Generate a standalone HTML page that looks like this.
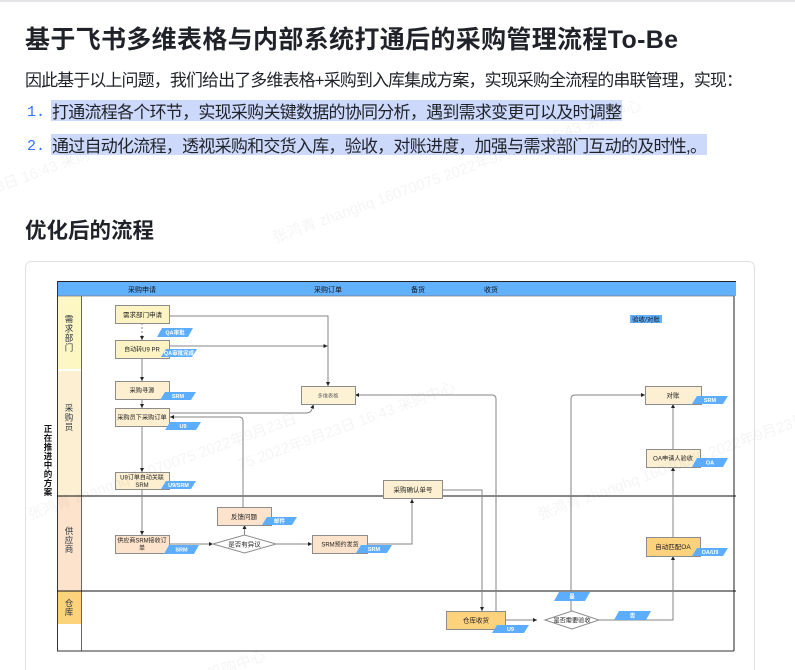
<!DOCTYPE html>
<html><head><meta charset="utf-8">
<style>
html,body{margin:0;padding:0;background:#fff;}
body{width:795px;height:670px;position:relative;overflow:hidden;font-family:"Liberation Sans","Noto Sans CJK SC",sans-serif;color:#1f2329;}
.topline{position:absolute;left:0;top:0;width:795px;height:2px;background:#e4e5e8;}
svg{position:absolute;left:0;top:0;}
</style></head><body>
<div class="topline"></div>

<svg width="795" height="670" viewBox="0 0 795 670" xmlns="http://www.w3.org/2000/svg" font-family="Liberation Sans, Noto Sans CJK SC, sans-serif">
<defs>
<marker id="a" viewBox="0 0 10 10" refX="10" refY="5" markerWidth="4" markerHeight="4" orient="auto"><path d="M0,0 L10,5 L0,10z" fill="#222"/></marker>
</defs>

<!-- header texts -->
<text x="25" y="48" font-size="25" font-weight="bold" fill="#1f2329" textLength="653" lengthAdjust="spacing">基于飞书多维表格与内部系统打通后的采购管理流程To-Be</text>
<text x="25" y="86" font-size="17" fill="#1f2329" textLength="718" lengthAdjust="spacing">因此基于以上问题，我们给出了多维表格+采购到入库集成方案，实现采购全流程的串联管理，实现：</text>
<rect x="51" y="100" width="571" height="21" fill="#cdd9fb"/>
<rect x="51" y="134" width="656" height="21" fill="#cdd9fb"/>
<text x="27" y="116" font-size="15" fill="#3370ff" font-family="Liberation Mono, monospace">1.</text>
<text x="27" y="150" font-size="15" fill="#3370ff" font-family="Liberation Mono, monospace">2.</text>
<text x="52" y="118" font-size="17" fill="#1f2329" textLength="570" lengthAdjust="spacing">打通流程各个环节，实现采购关键数据的协同分析，遇到需求变更可以及时调整</text>
<text x="52" y="152" font-size="17" fill="#1f2329" textLength="655" lengthAdjust="spacing">通过自动化流程，透视采购和交货入库，验收，对账进度，加强与需求部门互动的及时性,。</text>
<text x="25" y="238" font-size="21.5" font-weight="bold" fill="#1f2329" textLength="129" lengthAdjust="spacing">优化后的流程</text>

<!-- faint watermarks (page) -->
<g fill="rgba(0,0,0,0.045)" font-size="15">
<text transform="translate(-10,195) rotate(-20)">23日 16:43 采购中心</text>
<text transform="translate(275,243) rotate(-20)">张鸿青 zhanghq 16070075 2022年9月23日 16:43 采购中心</text>
</g>

<!-- card -->
<rect x="25.5" y="261.5" width="729" height="420" rx="6" fill="#fff" stroke="#dee0e3"/>

<!-- lane column fills -->
<rect x="57" y="296" width="24" height="73" fill="#fdf7c3"/>
<rect x="57" y="371" width="24" height="125" fill="#fdf0d2"/>
<rect x="57" y="496" width="24" height="95" fill="#fde3cc"/>
<rect x="57" y="591" width="24" height="33" fill="#fcd27a"/>

<!-- header bar -->
<rect x="57" y="281" width="679" height="15" fill="#62b1ff"/>
<line x1="57" y1="281.5" x2="736" y2="281.5" stroke="#222" stroke-width="1"/>
<line x1="57" y1="296" x2="734" y2="296" stroke="#777" stroke-width="0.8"/>
<g font-size="7" fill="#111" text-anchor="middle">
<text x="142" y="292">采购申请</text>
<text x="328" y="292">采购订单</text>
<text x="418" y="292">备货</text>
<text x="491" y="292">收货</text>
</g>

<!-- borders -->
<line x1="57.5" y1="281" x2="57.5" y2="651" stroke="#333"/>
<line x1="81.5" y1="296" x2="81.5" y2="651" stroke="#666"/>
<line x1="734" y1="296" x2="734" y2="651" stroke="#555" stroke-width="1.3"/>
<line x1="57" y1="651" x2="734" y2="651" stroke="#333"/>
<line x1="57" y1="496" x2="736" y2="496" stroke="#111"/>
<line x1="57" y1="591" x2="736" y2="591" stroke="#111"/>

<!-- lane labels -->
<g font-size="8.5" fill="#2b3440" text-anchor="middle">
<text x="69" y="322">需</text><text x="69" y="331.5">求</text><text x="69" y="341">部</text><text x="69" y="350.5">门</text>
<text x="69" y="411">采</text><text x="69" y="420.5">购</text><text x="69" y="430">员</text>
<text x="69" y="534">供</text><text x="69" y="543">应</text><text x="69" y="552">商</text>
<text x="69" y="606">仓</text><text x="69" y="615">库</text>
</g>
<g font-size="8.5" fill="#111" text-anchor="middle" font-weight="bold">
<text x="48" y="432">正</text><text x="48" y="441">在</text><text x="48" y="450">推</text><text x="48" y="459">进</text><text x="48" y="468">中</text><text x="48" y="477">的</text><text x="48" y="486">方</text><text x="48" y="495">案</text>
</g>

<!-- 验收/对账 label -->
<rect x="630" y="315" width="32" height="8" fill="#62b1ff"/>
<text x="646" y="321.5" font-size="6.5" fill="#111" text-anchor="middle">验收/对账</text>

<!-- connectors -->
<g fill="none" stroke="#858585" stroke-width="1">
<path d="M170,316 H328 V386" marker-end="url(#a)"/>
<path d="M142,323 V340" stroke-dasharray="2,2" marker-end="url(#a)"/>
<path d="M169,346 H327.5" marker-end="url(#a)"/>
<path d="M142,358 V381" marker-end="url(#a)"/>
<path d="M142,399 V408" marker-end="url(#a)"/>
<path d="M169,413 H306 Q311,413 312,409 L313.5,404.5" marker-end="url(#a)"/>
<path d="M243,507 V421 Q243,417 239,417 H170" marker-end="url(#a)"/>
<path d="M142,426 V472" marker-end="url(#a)"/>
<path d="M142,489 V535" marker-end="url(#a)"/>
<path d="M169,544 H213" marker-end="url(#a)"/>
<path d="M244.5,535 V525" marker-end="url(#a)"/>
<path d="M276,544 H312" marker-end="url(#a)"/>
<path d="M367,544 H412 V499" marker-end="url(#a)"/>
<path d="M442,490 H482 V611" marker-end="url(#a)"/>
<path d="M496,611 V399 Q496,395 492,395 H355" marker-end="url(#a)"/>
<path d="M505,620 H537" marker-end="url(#a)"/>
<path d="M571,611 V399 Q571,395 575,395 H645" marker-end="url(#a)"/>
<path d="M599,620 H673 V556" marker-end="url(#a)"/>
<path d="M673,537 V467" marker-end="url(#a)"/>
<path d="M673,449 V404" marker-end="url(#a)"/>
</g>

<!-- boxes -->
<g stroke="#8c8c8c" stroke-width="1">
<rect x="115.5" y="305.5" width="54" height="18" fill="#fdf3c3"/>
<rect x="115.5" y="340.5" width="54" height="18" fill="#fdf3c3"/>
<rect x="115.5" y="381.5" width="54" height="18" fill="#fdefd0"/>
<rect x="115.5" y="408.5" width="54" height="18" fill="#fdefd0"/>
<rect x="115.5" y="472.5" width="54" height="17" fill="#fdefd0"/>
<rect x="301.5" y="386.5" width="54" height="18" fill="#fdf2d4"/>
<rect x="115.5" y="535.5" width="54" height="18" fill="#fde3cb"/>
<rect x="217.5" y="507.5" width="54" height="18" fill="#fde3cb"/>
<rect x="312.5" y="535.5" width="55" height="18" fill="#fde3cb"/>
<rect x="383.5" y="480.5" width="59" height="18" fill="#fdf0d2"/>
<rect x="446.5" y="611.5" width="59" height="18" fill="#fcd27d"/>
<rect x="646.5" y="537.5" width="54" height="19" fill="#fcd27d"/>
<rect x="646.5" y="449.5" width="54" height="18" fill="#fdf0d2"/>
<rect x="645.5" y="386.5" width="56" height="18" fill="#fdf0d2"/>
<polygon points="213,544 244.5,535 276,544 244.5,553" fill="#fff"/>
<polygon points="545,620 572,611 599,620 572,629" fill="#fff"/>
</g>

<!-- box text -->
<g font-size="6.5" fill="#222" text-anchor="middle">
<text x="142.5" y="317">需求部门申请</text>
<text x="142" y="351.5" font-size="6">自动转U9  PR</text>
<text x="142" y="392.5" font-size="6.2">采购寻源</text>
<text x="142" y="419.5" font-size="6.2">采购员下采购订单</text>
<text x="142" y="479.5" font-size="6">U9订单自动关联</text>
<text x="142" y="487" font-size="6">SRM</text>
<text x="328" y="397.5" font-size="5.2" fill="#666">多维表格</text>
<text x="142" y="542.5" font-size="6">供应商SRM接收订</text>
<text x="142" y="550" font-size="6">单</text>
<text x="244" y="519">反馈问题</text>
<text x="340" y="546.5" font-size="6">SRM预约发货</text>
<text x="413" y="492">采购确认单号</text>
<text x="476" y="622.5">仓库收货</text>
<text x="673" y="549">自动匹配OA</text>
<text x="673" y="460.5" font-size="6.2">OA申请人验收</text>
<text x="673" y="397.5">对账</text>
<text x="244.5" y="546.5">是否有异议</text>
<text x="572" y="622.5" font-size="6.2">是否需要验收</text>
</g>

<!-- tags -->
<g fill="#5dadff">
<polygon points="162,328 193,328 188,337 157,337"/>
<polygon points="166,349 197,349 192,357 161,357"/>
<polygon points="165,392 196,392 191,400 160,400"/>
<polygon points="170,422 201,422 196,430 165,430"/>
<polygon points="166,481 196,481 191,489 161,489"/>
<polygon points="267,517 297,517 292,525 262,525"/>
<polygon points="169,545 199,545 194,554 164,554"/>
<polygon points="361,545 392,545 387,553 356,553"/>
<polygon points="497,625 529,625 524,633 492,633"/>
<polygon points="559,592 590,592 585,601 554,601"/>
<polygon points="619,611 651,611 646,620 614,620"/>
<polygon points="697,548 728,548 723,556 692,556"/>
<polygon points="697,458 728,458 723,467 692,467"/>
<polygon points="697,396 728,396 723,404 692,404"/>
</g>
<g font-size="5.5" fill="#fff" font-weight="bold" text-anchor="middle">
<text x="175" y="334.5">QA审批</text>
<text x="179" y="355">QA审批完成</text>
<text x="178" y="398">SRM</text>
<text x="183" y="428">U9</text>
<text x="178.5" y="487">U9/SRM</text>
<text x="279.5" y="523">邮件</text>
<text x="181.5" y="551.5">SRM</text>
<text x="374" y="551">SRM</text>
<text x="510.5" y="631">U9</text>
<text x="572" y="598.5">是</text>
<text x="632.5" y="617.5">否</text>
<text x="710" y="554">OA/U9</text>
<text x="710" y="464.5">OA</text>
<text x="710" y="402">SRM</text>
</g>

<!-- faint watermarks -->
<g fill="rgba(0,0,0,0.045)" font-size="15">
<text transform="translate(240,470) rotate(-20)">75 2022年9月23日 16:43 采购中心</text>
<text transform="translate(30,520) rotate(-20)">张鸿青 zhanghq 16070075 2022年9月23日</text>
<text transform="translate(540,520) rotate(-20)">张鸿青 zhanghq 16070075 2022年9月23日</text>
<text transform="translate(210,680) rotate(-20)">采购中心</text>
</g>
</svg>
</body></html>
